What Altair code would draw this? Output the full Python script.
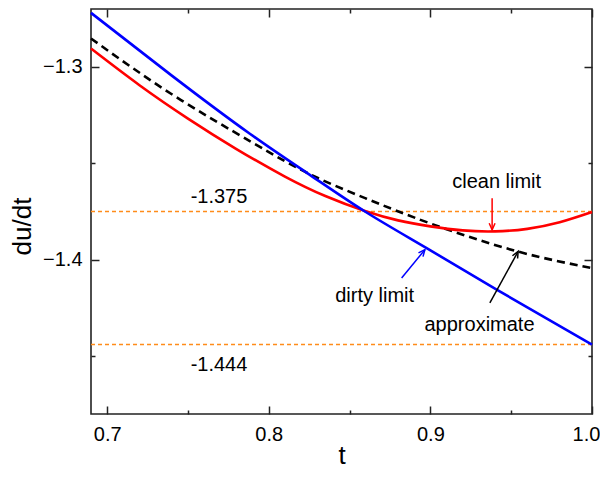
import altair as alt
import pandas as pd

# ---- data ----
t_clean = [0.69, 0.72, 0.75, 0.78, 0.81, 0.835, 0.86, 0.88, 0.90, 0.92, 0.94, 0.96, 0.98, 1.0]
v_clean = [-1.2905, -1.3095, -1.3268, -1.3426, -1.3569, -1.3670, -1.3749, -1.3796, -1.3827,
           -1.3848, -1.3853, -1.3840, -1.3806, -1.3753]

t_dirty = [0.69, 0.7396, 0.7883, 0.8254, 0.8595, 0.8977, 0.9410, 1.0]
v_dirty = [-1.2720, -1.3043, -1.3347, -1.3560, -1.3750, -1.3940, -1.4155, -1.4440]

t_approx = [0.69, 0.74, 0.79, 0.825, 0.86, 0.90, 0.953, 1.0]
v_approx = [-1.2853, -1.3142, -1.3393, -1.3555, -1.3682, -1.3812, -1.3955, -1.4043]

ref_values = [-1.375, -1.444]
ref_labels = ["-1.375", "-1.444"]
ref_label_t = [0.7692, 0.7692]
ref_label_v = [-1.3707, -1.4578]

ann_text = ["clean limit", "dirty limit", "approximate"]
ann_t = [0.941, 0.8655, 0.9304]
ann_v = [-1.3629, -1.4221, -1.4371]

# arrows: start (t0, v0) -> tip (t1, v1)
arr_t0 = [0.9382, 0.8822, 0.9368]
arr_v0 = [-1.3681, -1.4095, -1.4224]
arr_t1 = [0.9382, 0.8966, 0.9543]
arr_v1 = [-1.3845, -1.3948, -1.3957]
arr_col = ["#FF0000", "#0000FF", "#000000"]

x_major = [0.7, 0.8, 0.9, 1.0]
x_minor = [0.75, 0.85, 0.95]
y_major = [-1.4, -1.3]
y_minor = [-1.45, -1.35]
x_domain = [0.69, 1.0]
y_domain = [-1.48, -1.27]

FONT = "Liberation Sans"
INK = "#222222"

xs = alt.Scale(domain=x_domain, nice=False, zero=False)
ys = alt.Scale(domain=y_domain, nice=False, zero=False)


def tick_axis(values, orient, size, **kw):
    # inward ticks: axis pulled inside the frame by its tick length
    base = dict(values=values, orient=orient, offset=-size, tickSize=size,
                tickColor=INK, tickWidth=1.5, domain=False, grid=False)
    if "labels" not in kw:
        base["labels"] = False
    if "title" not in kw:
        base["title"] = None
    base.update(kw)
    return alt.Axis(**base)


x_bottom = tick_axis(x_major, "bottom", 8, labels=True, format=".1f", labelPadding=10,
                     labelFont=FONT, labelFontSize=20, labelColor="black",
                     labelFlush=False, labelOverlap=False,
                     labelOffset={"condition": {"test": "datum.value > 0.99", "value": -6}, "value": 0},
                     title="t", titleFont=FONT, titleFontSize=26, titleFontWeight="normal",
                     titleColor="black", titleY=57, titleBaseline="alphabetic")
y_left = tick_axis(y_major, "left", 8, labels=True, format=".1f", labelPadding=9,
                   labelFont=FONT, labelFontSize=20, labelColor="black",
                   labelFlush=False, labelOverlap=False,
                   title="du/dt", titleFont=FONT, titleFontSize=26, titleFontWeight="normal",
                   titleColor="black", titleX=-77, titleY=217, titleAngle=-90,
                   titleAlign="center", titleBaseline="middle")
x_bottom_minor = tick_axis(x_minor, "bottom", 4)
y_left_minor = tick_axis(y_minor, "left", 4)
x_top = tick_axis(x_major, "top", 8)
y_right = tick_axis(y_major, "right", 8)
x_top_minor = tick_axis(x_minor, "top", 4)
y_right_minor = tick_axis(y_minor, "right", 4)

df_clean = pd.DataFrame({"t": t_clean, "v": v_clean})
df_dirty = pd.DataFrame({"t": t_dirty, "v": v_dirty})
df_approx = pd.DataFrame({"t": t_approx, "v": v_approx})
df_ref = pd.DataFrame({"v": ref_values})
df_ref_lab = pd.DataFrame({"t": ref_label_t, "v": ref_label_v, "label": ref_labels})
df_ann = pd.DataFrame({"t": ann_t, "v": ann_v, "label": ann_text})
df_arr = pd.DataFrame({"t0": arr_t0, "v0": arr_v0, "t1": arr_t1, "v1": arr_v1, "c": arr_col})


def axis_layer(ax_x, ax_y):
    return alt.Chart(df_clean).mark_point(opacity=0).encode(
        x=alt.X("t:Q", scale=xs, axis=ax_x),
        y=alt.Y("v:Q", scale=ys, axis=ax_y),
    )


axes_layers = [
    axis_layer(x_bottom, y_left),
    axis_layer(x_bottom_minor, y_left_minor),
    axis_layer(x_top, y_right),
    axis_layer(x_top_minor, y_right_minor),
]

ref_lines = alt.Chart(df_ref).mark_rule(color="#FF8C1A", strokeWidth=1.5, strokeDash=[4, 3]).encode(
    y=alt.Y("v:Q", scale=ys, axis=None),
)


def line(df, color, **kw):
    return alt.Chart(df).mark_line(color=color, strokeWidth=2.6, interpolate="natural", **kw).encode(
        x=alt.X("t:Q", scale=xs, axis=None),
        y=alt.Y("v:Q", scale=ys, axis=None),
    )


l_clean = line(df_clean, "#FF0000")
l_dirty = line(df_dirty, "#0000FF")
l_approx = line(df_approx, "#000000", strokeDash=[8, 5])

ref_text = alt.Chart(df_ref_lab).mark_text(font=FONT, fontSize=20, color="black",
                                           align="center", baseline="alphabetic").encode(
    x=alt.X("t:Q", scale=xs, axis=None), y=alt.Y("v:Q", scale=ys, axis=None), text="label:N")
ann = alt.Chart(df_ann).mark_text(font=FONT, fontSize=20, color="black",
                                  align="center", baseline="alphabetic").encode(
    x=alt.X("t:Q", scale=xs, axis=None), y=alt.Y("v:Q", scale=ys, axis=None), text="label:N")

shafts = alt.Chart(df_arr).mark_rule(strokeWidth=1.5).encode(
    x=alt.X("t0:Q", scale=xs, axis=None), y=alt.Y("v0:Q", scale=ys, axis=None),
    x2="t1:Q", y2="v1:Q",
    color=alt.Color("c:N", scale=None),
)

head_shape = "M-0.45,1 L0,0 L0.45,1"
angles = [180, 39.5, 28.7]
heads = []
for i in range(3):
    heads.append(
        alt.Chart(df_arr.iloc[[i]]).mark_point(shape=head_shape, filled=False, size=170,
                                               strokeWidth=1.5, angle=angles[i],
                                               color=arr_col[i], opacity=1).encode(
            x=alt.X("t1:Q", scale=xs, axis=None), y=alt.Y("v1:Q", scale=ys, axis=None))
    )

chart = alt.layer(*axes_layers, ref_lines, l_approx, l_clean, l_dirty, ref_text, ann, shafts, *heads).resolve_axis(
    x="independent", y="independent"
).properties(
    width=501, height=405,
    autosize=alt.AutoSizeParams(type="none"),
    padding={"left": 83, "top": 1, "right": 8, "bottom": 56},
    background="white",
).configure_view(stroke=INK, strokeWidth=1.6)

chart.save("out.html", embed_options={"renderer": "svg", "actions": False})
